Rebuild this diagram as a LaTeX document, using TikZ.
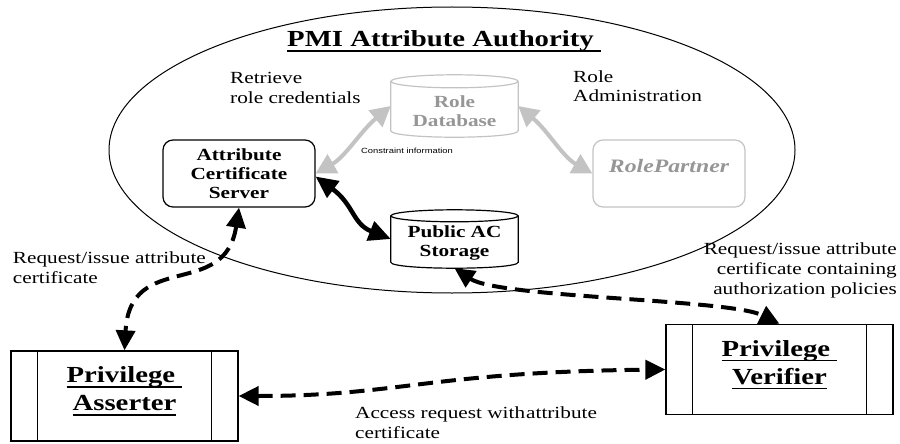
\documentclass[tikz,border=0pt]{standalone}
\usepackage{fontspec}
\setmainfont{Liberation Serif}[FakeStretch=1.25]
\setsansfont{Liberation Sans}[FakeStretch=1.25]
\usetikzlibrary{arrows.meta}
\newcommand{\ulbox}[1]{\setbox0\hbox{#1}\rlap{\rule[-5pt]{\wd0}{1.7pt}}\box0}
\definecolor{lgray}{RGB}{195,195,195}
\definecolor{tgray}{RGB}{150,150,150}
\begin{document}
\begin{tikzpicture}[x=1pt,y=-1pt,
  lbl/.style={inner sep=0pt, font=\fontsize{17}{20}\selectfont},
  srv/.style={draw, line width=1.2pt, rounded corners=10pt, minimum width=152pt, minimum height=67pt, inner sep=0pt, align=center, font=\fontsize{17}{19}\selectfont\bfseries},
  cyl/.style={minimum width=127pt, inner sep=0pt, align=center, font=\fontsize{17}{19}\selectfont\bfseries},
  cylline/.style={line width=1.2pt},
  pbox/.style={draw, line width=1.3pt, minimum width=227pt, minimum height=90pt, inner sep=0pt, align=center, font=\fontsize{23}{28}\selectfont\bfseries},
  garrow/.style={color=lgray, line width=4pt, {Triangle[length=20pt,width=21pt]}-{Triangle[length=20pt,width=21pt]}},
  barrow/.style={line width=4.5pt, {Triangle[length=22pt,width=20pt]}-{Triangle[length=22pt,width=20pt]}},
  darrow/.style={line width=4pt, dash pattern=on 15pt off 8pt, {Triangle[length=20pt,width=19pt]}-{Triangle[length=20pt,width=19pt]}}
]
\useasboundingbox (0,0) rectangle (900,444);

% PMI ellipse
\draw[line width=1pt] (452,150) ellipse [x radius=343, y radius=143];
\node[lbl, font=\fontsize{23}{28}\selectfont\bfseries, anchor=base west] (title) at (287,47) {\ulbox{PMI Attribute Authority\ }};

% nodes
\node[srv] (acs) at (239,173.5) {Attribute\\Certificate\\Server};
\node[srv, draw=lgray, text=tgray, font=\fontsize{19}{21}\selectfont\bfseries\itshape] (rp) at (669,173.5) {RolePartner\rule[-15pt]{0pt}{15pt}};
\node[cyl, minimum height=62pt, text=tgray] (rdb) at (454.5,106) {\rule{0pt}{23pt}Role\\Database};
\node[cyl, minimum height=58pt] (pac) at (454.5,239) {\rule{0pt}{20.6pt}Public AC\\Storage};

% cylinders
\draw[cylline, lgray] ([yshift=-6.5pt]rdb.north) ellipse [x radius=63.5, y radius=6.5];
\draw[cylline, lgray] ([yshift=-6.5pt]rdb.north west) -- ([yshift=6.5pt]rdb.south west)
  .. controls +(0,8.7) and +(0,8.7) .. ([yshift=6.5pt]rdb.south east) -- ([yshift=-6.5pt]rdb.north east);
\draw[cylline] ([yshift=-6pt]pac.north) ellipse [x radius=63.5, y radius=6];
\draw[cylline] ([yshift=-6pt]pac.north west) -- ([yshift=6pt]pac.south west)
  .. controls +(0,8) and +(0,8) .. ([yshift=6pt]pac.south east) -- ([yshift=-6pt]pac.north east);

% privilege boxes
\node[pbox] (pa) at (124.5,396) {\ulbox{Privilege\ }\\\ulbox{Asserter}\rule[-14pt]{0pt}{14pt}};
\node[pbox] (pv) at (779.5,369.5) {\ulbox{Privilege\ }\\\ulbox{Verifier}\rule[-14pt]{0pt}{14pt}};
\draw[line width=1.3pt] ([xshift=27pt]pa.north west) -- ([xshift=27pt]pa.south west);
\draw[line width=1.3pt] ([xshift=-27pt]pa.north east) -- ([xshift=-27pt]pa.south east);
\draw[line width=1.3pt] ([xshift=27pt]pv.north west) -- ([xshift=27pt]pv.south west);
\draw[line width=1.3pt] ([xshift=-27pt]pv.north east) -- ([xshift=-27pt]pv.south east);

% labels
\node[lbl, align=left, anchor=base west] (l1) at (230,103) {Retrieve\\role credentials};
\node[lbl, align=left, anchor=base west] (l2) at (573,102) {Role\\Administration};
\node[inner sep=0pt, font=\sffamily\fontsize{7.5}{9}\selectfont, anchor=base west] (l3) at (361,153) {Constraint information};
\node[lbl, align=left, anchor=base west] (l4) at (12.7,283) {Request/issue attribute\\certificate};
\node[lbl, align=right, anchor=base east] (l5) at (897,294) {Request/issue attribute\\certificate containing\\authorization policies};
\node[lbl, align=left, anchor=base west] (l6) at (355,438) {Access request with\hspace{1pt}attribute\\certificate};

% connectors
\draw[garrow] (rdb.west) .. controls +(-30,25) and +(30,-17) .. (acs.east);
\draw[garrow] (rdb.east) .. controls +(30,25) and +(-30,-17) .. (rp.west);
\draw[barrow] ([yshift=-3pt]acs.east) .. controls +(38,28) and +(-38,-15) .. (pac.west);
\draw[darrow] (acs.south) .. controls +(-14,93) and +(5.5,-101) .. (pa.north);
\draw[darrow] (pac.south) .. controls +(45,30) and +(-50,-25) .. (pv.north);
\draw[darrow] (pa.east) .. controls +(162,0) and +(-236,2.5) .. (pv.west);
\end{tikzpicture}
\end{document}
